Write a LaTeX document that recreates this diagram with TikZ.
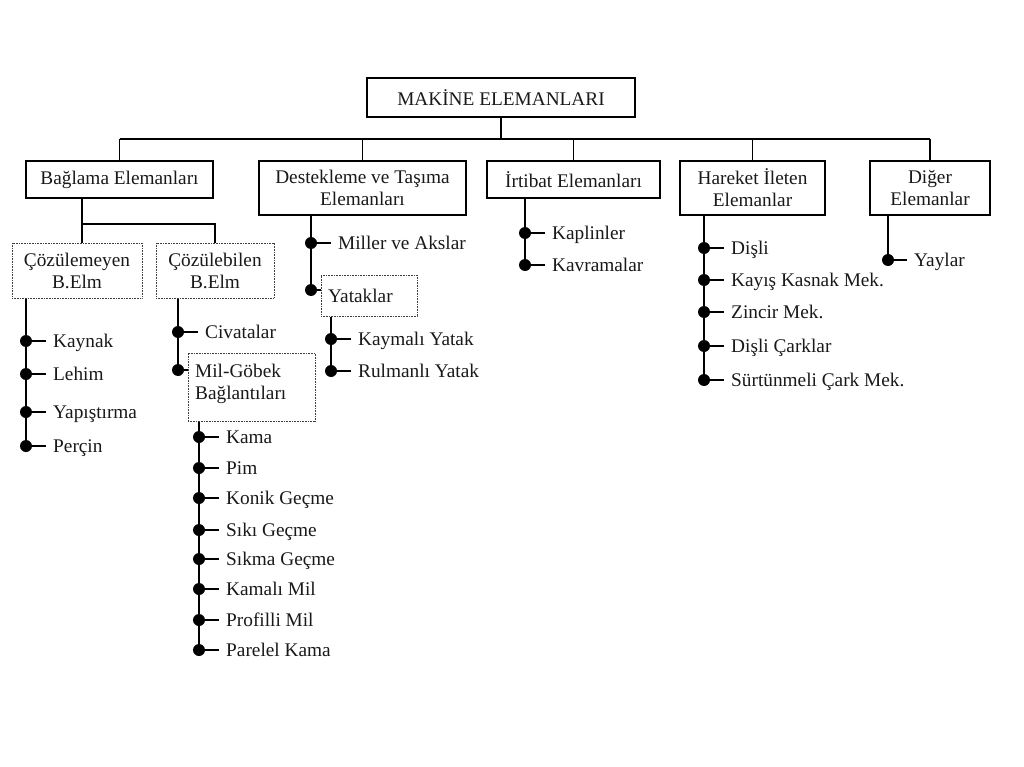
\documentclass[tikz,border=0pt]{standalone}
\usepackage{fontspec}
\setmainfont{Liberation Serif}
\begin{document}
\begin{tikzpicture}[x=1pt,y=-1pt,
  box/.style={draw=black,line width=1.6pt,inner sep=0pt,align=center,
    font=\fontsize{19.3}{22}\selectfont,text=black!90},
  dbox/.style={draw=black!75,line width=1pt,dash pattern=on 0.9pt off 0.7pt,inner sep=0pt,
    font=\fontsize{19.3}{22}\selectfont,text=black!90},
  conn/.style={line width=2pt,black},
  bus/.style={line width=1.3pt,black},
  dot/.style={circle,fill=black,inner sep=0pt,minimum size=12pt},
  item/.style={anchor=west,inner xsep=7pt,inner ysep=0pt,text height=13pt,text depth=0pt,
    font=\fontsize{19.3}{22}\selectfont,text=black!90}]
\useasboundingbox (0,0) rectangle (1024,767);
\fill[white] (0,0) rectangle (1024,767);

% top level boxes
\node[box,minimum width=268pt,minimum height=39pt] (top) at (501,97.5) {MAKİNE ELEMANLARI};
\node[box,minimum width=187pt,minimum height=37pt] (bag) at (119.5,179.5) {Bağlama Elemanları};
\node[box,minimum width=207pt,minimum height=54pt] (des) at (362.5,188) {Destekleme ve Taşıma\\Elemanları};
\node[box,minimum width=173pt,minimum height=37pt] (irt) at (573.5,179.5) {İrtibat Elemanları};
\node[box,minimum width=145pt,minimum height=54pt] (har) at (752.5,188) {Hareket İleten\\Elemanlar};
\node[box,minimum width=120pt,minimum height=54pt] (dig) at (930,188) {Diğer\\Elemanlar};

% bus
\coordinate (busy) at (502,139);
\draw[conn,line width=2pt] (top.south) -- (top.south |- busy);
\draw[bus] (bag.north |- busy) -- (dig.north |- busy);
\foreach \n in {bag,des,irt,har,dig}{\draw[bus] (\n.north |- busy) -- (\n.north);}

% Baglama sub-boxes
\node[dbox,minimum width=130pt,minimum height=55pt,align=center] (coz1) at (77,270.5) {Çözülemeyen\\B.Elm};
\node[dbox,minimum width=118pt,minimum height=55pt,align=center] (coz2) at (215,270.5) {Çözülebilen\\B.Elm};
\coordinate (bj) at (82,224);
\draw[bus] (bag.south -| bj) -- (coz1.north -| bj);
\draw[bus] (bj) -- (coz2.north |- bj) -- (coz2.north);

% Cozulemeyen items
\node[dot] (a1) at (26,341) {};
\node[dot] (a2) at (26,374) {};
\node[dot] (a3) at (26,412) {};
\node[dot] (a4) at (26,446) {};
\node[item] (ta1) at (46,341) {Kaynak};
\node[item] (ta2) at (46,374) {Lehim};
\node[item] (ta3) at (46,412) {Yapıştırma};
\node[item] (ta4) at (46,446) {Perçin};
\draw[conn] (coz1.south -| a1) -- (a4.center);
\foreach \i in {1,...,4}{\draw[conn] (a\i.center) -- (ta\i.west);}

% Cozulebilen items
\node[dbox,minimum width=127pt,minimum height=68pt,align=left] (mil) at (251.5,387) {};
\node[anchor=north west,inner sep=0pt,align=left,font=\fontsize{19.3}{22}\selectfont,text=black!90] (miltxt) at (195,364) {Mil-Göbek\\Bağlantıları};
\node[dot] (b1) at (178,332) {};
\node[dot] (b2) at (178,370) {};
\node[item] (tb1) at (198,332) {Civatalar};
\draw[conn] (coz2.south -| b1) -- (b2.center);
\draw[conn] (b1.center) -- (tb1.west);
\draw[conn] (b2.center) -- (b2.center -| mil.west);

% Mil-Gobek items
\foreach \i/\y/\t in {1/437/Kama,2/468/Pim,3/498/Konik Geçme,4/530/Sıkı Geçme,5/559/Sıkma Geçme,6/589/Kamalı Mil,7/620/Profilli Mil,8/650/Parelel Kama}{
  \node[dot] (m\i) at (199,\y) {};
  \node[item] (tm\i) at (219,\y) {\t};
  \draw[conn] (m\i.center) -- (tm\i.west);
}
\draw[conn] (mil.south -| m1) -- (m8.center);

% Destekleme items
\node[dot] (c1) at (311,243) {};
\node[item] (tc1) at (331,243) {Miller ve Akslar};
\node[dot] (c2) at (311,290) {};
\node[dbox,minimum width=96pt,minimum height=41pt] (yat) at (369,295.5) {};
\node[anchor=west,inner sep=0pt,text height=13pt,text depth=0pt,font=\fontsize{19.3}{22}\selectfont,text=black!90] (yattxt) at (328,296) {Yataklar};
\draw[conn] (des.south -| c1) -- (c2.center);
\draw[conn] (c1.center) -- (tc1.west);
\draw[conn] (c2.center) -- (c2.center -| yat.west);

% Yataklar items
\node[dot] (y1) at (331,339) {};
\node[dot] (y2) at (331,371) {};
\node[item] (ty1) at (351,339) {Kaymalı Yatak};
\node[item] (ty2) at (351,371) {Rulmanlı Yatak};
\draw[conn] (yat.south -| y1) -- (y2.center);
\draw[conn] (y1.center) -- (ty1.west);
\draw[conn] (y2.center) -- (ty2.west);

% Irtibat items
\node[dot] (i1) at (525,233) {};
\node[dot] (i2) at (525,265) {};
\node[item] (ti1) at (545,233) {Kaplinler};
\node[item] (ti2) at (545,265) {Kavramalar};
\draw[conn] (irt.south -| i1) -- (i2.center);
\draw[conn] (i1.center) -- (ti1.west);
\draw[conn] (i2.center) -- (ti2.west);

% Hareket items
\foreach \i/\y/\t in {1/248/Dişli,2/280/Kayış Kasnak Mek.,3/312/Zincir Mek.,4/346/Dişli Çarklar,5/380/Sürtünmeli Çark Mek.}{
  \node[dot] (h\i) at (704,\y) {};
  \node[item] (th\i) at (724,\y) {\t};
  \draw[conn] (h\i.center) -- (th\i.west);
}
\draw[conn] (har.south -| h1) -- (h5.center);

% Diger items
\node[dot] (g1) at (888,260) {};
\node[item] (tg1) at (907,260) {Yaylar};
\draw[conn] (dig.south -| g1) -- (g1.center);
\draw[conn] (g1.center) -- (tg1.west);
\end{tikzpicture}
\end{document}
